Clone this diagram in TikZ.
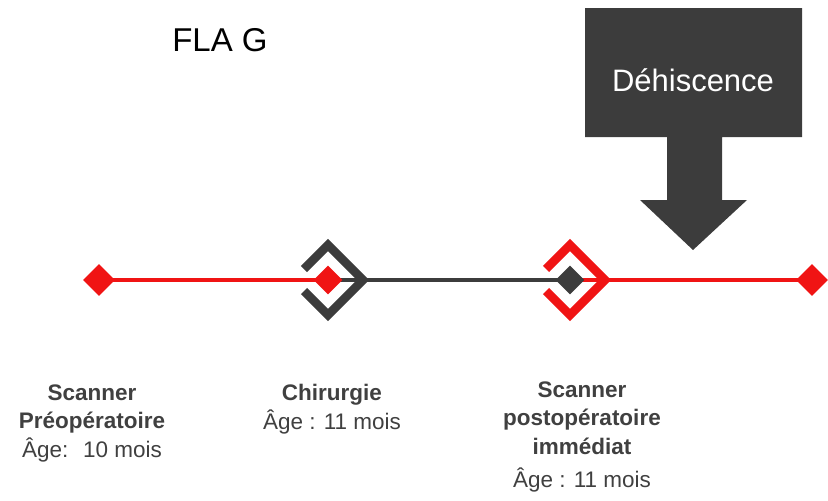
\documentclass[tikz,border=0pt]{standalone}
\usepackage{fontspec}
\setmainfont{Liberation Sans}
\usetikzlibrary{shapes.geometric,calc}
\definecolor{myred}{HTML}{F01414}
\definecolor{mydark}{HTML}{3C3C3C}
\definecolor{mytext}{HTML}{404040}
\begin{document}
\begin{tikzpicture}[x=1pt,y=-1pt,
  tline/.style={line width=4.5pt},
  dia/.style={diamond,inner sep=0pt,minimum size=32pt,draw=none},
  chev/.style={line width=8.5pt,line cap=butt,line join=miter},
  lbl/.style={align=center,text=mytext,font=\fontsize{22.5}{28.5}\selectfont},
  callout/.style={fill=mydark,draw=none}]
\useasboundingbox (0,0) rectangle (828,501);
% positions
\coordinate (p1) at (99,280);
\coordinate (p2) at (328,280);
\coordinate (p3) at (570,280);
\coordinate (p4) at (812,280);
% connecting lines
\draw[tline,myred] (p1) -- (p2);
\draw[tline,mydark] (p2) -- (p3);
\draw[tline,myred] (p3) -- (p4);
% chevrons
\draw[chev,mydark] ($(p2)+(-24,-11)$) -- ($(p2)+(0,-35)$) -- ($(p2)+(35,0)$) -- ($(p2)+(0,35)$) -- ($(p2)+(-24,11)$);
\draw[chev,myred] ($(p3)+(-24,-11)$) -- ($(p3)+(0,-35)$) -- ($(p3)+(35,0)$) -- ($(p3)+(0,35)$) -- ($(p3)+(-24,11)$);
% diamonds
\node[dia,fill=myred] (d1) at (p1) {};
\node[dia,fill=myred,minimum size=29pt] (d2) at (p2) {};
\node[dia,fill=mydark,minimum size=29pt] (d3) at (p3) {};
\node[dia,fill=myred] (d4) at (p4) {};
% title
\node[font=\fontsize{33}{36}\selectfont,text=black] (title) at (220,40) {FLA G};
% callout arrow
\path[callout] (585,8) -- (802,8) -- (802,137) -- (722,137) -- (722,200) -- (747,200) -- (693,250) -- (640,200) -- (667,200) -- (667,137) -- (585,137) -- cycle;
\node[font=\fontsize{31}{34}\selectfont,text=white] (dehis) at (693,80) {Déhiscence};
% labels
\node[lbl] (l1) at (92,423) {\textbf{Scanner}\\\textbf{Préopératoire}\\Âge:~ 10 mois};
\node[lbl] (l2) at (332,409) {\textbf{Chirurgie}\\Âge : 11 mois};
\node[lbl] (l3) at (582,437) {\textbf{Scanner}\\\textbf{postopératoire}\\\textbf{immédiat}\\[5pt]Âge : 11 mois};
\end{tikzpicture}
\end{document}
